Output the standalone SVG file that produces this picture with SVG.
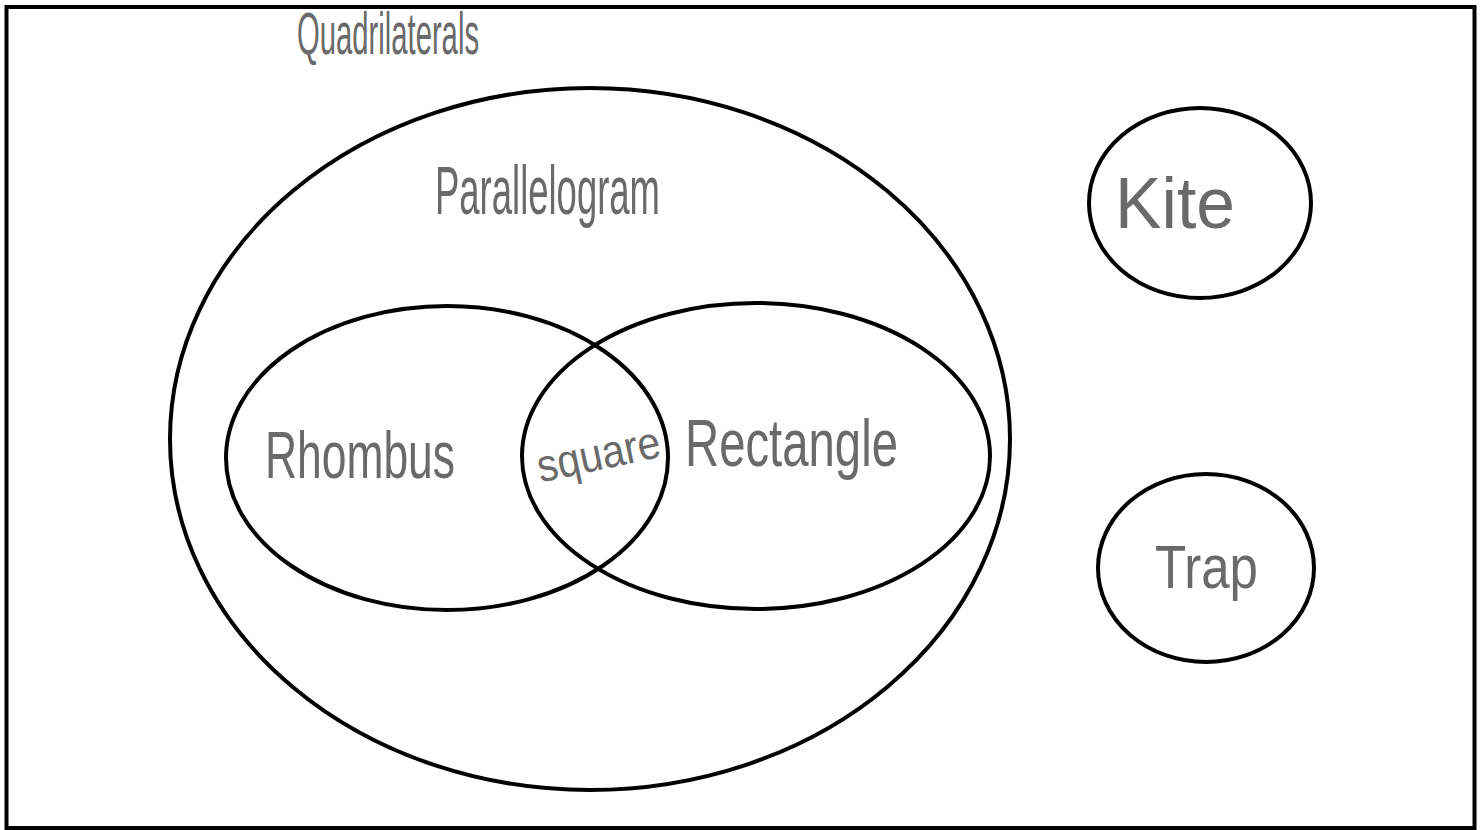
<svg xmlns="http://www.w3.org/2000/svg" width="1481" height="830" viewBox="0 0 1481 830">
<style>
.s{fill:none;stroke:#000;stroke-width:4}
.t{font-family:"Liberation Sans",Arial,sans-serif;fill:#6a6a6a;font-weight:300}
</style>
<rect x="0" y="0" width="1481" height="830" fill="#fff"/>
<rect x="6.5" y="7" width="1468" height="821" fill="none" stroke="#000" stroke-width="4"/>
<g id="title"><text class="t" x="297" y="54" font-size="60" textLength="182" lengthAdjust="spacingAndGlyphs">Quadrilaterals</text></g>
<g id="parallelogram">
<ellipse class="s" cx="590" cy="439" rx="420" ry="351"/>
<text class="t" x="435" y="214" font-size="68" textLength="225" lengthAdjust="spacingAndGlyphs">Parallelogram</text>
</g>
<g id="rhombus">
<ellipse class="s" cx="447" cy="458" rx="221" ry="152"/>
<text class="t" x="265" y="478" font-size="66" textLength="190" lengthAdjust="spacingAndGlyphs">Rhombus</text>
</g>
<g id="rectangle">
<ellipse class="s" cx="756" cy="456" rx="234" ry="153"/>
<text class="t" x="685" y="466" font-size="66" textLength="213" lengthAdjust="spacingAndGlyphs">Rectangle</text>
</g>
<g id="square">
<text class="t" x="535" y="470" font-size="46" textLength="125" lengthAdjust="spacingAndGlyphs" transform="rotate(-12 597 450)">square</text>
</g>
<g id="kite">
<ellipse class="s" cx="1200" cy="203" rx="111" ry="95"/>
<text class="t" x="1115" y="228" font-size="72" textLength="120" lengthAdjust="spacingAndGlyphs">Kite</text>
</g>
<g id="trap">
<ellipse class="s" cx="1206" cy="568" rx="108" ry="94"/>
<text class="t" x="1155" y="588" font-size="62" textLength="103" lengthAdjust="spacingAndGlyphs">Trap</text>
</g>
<g id="connectors"></g>
</svg>
